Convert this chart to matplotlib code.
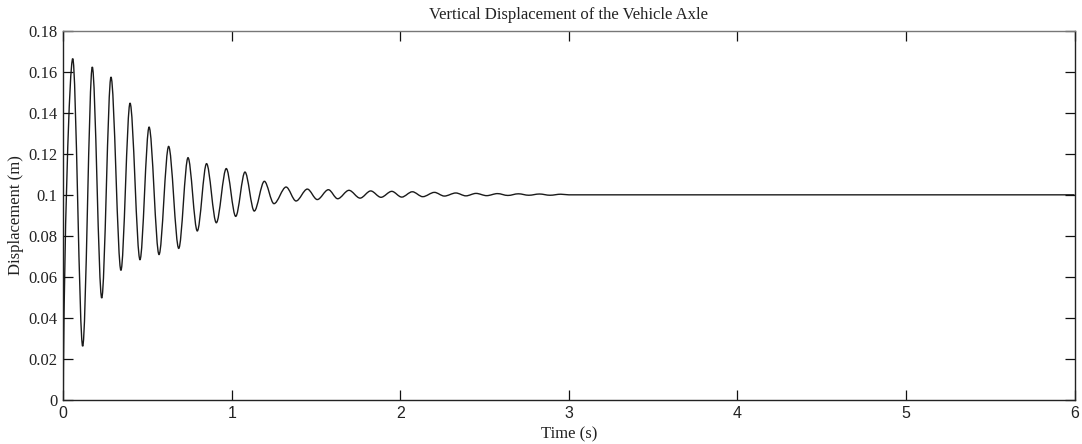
import matplotlib
matplotlib.use("Agg")
import matplotlib.pyplot as plt
from matplotlib.path import Path
from matplotlib.patches import PathPatch

# ---- data (extrema of the response, in s and m) ----
start_time = [0.0]
start_disp = [0.0]
peak_times = [0.056, 0.172, 0.283, 0.396, 0.509, 0.625, 0.740, 0.850, 0.967, 1.078,
              1.193, 1.322, 1.448, 1.573, 1.695, 1.824, 1.949, 2.071, 2.202, 2.329,
              2.449, 2.576, 2.700, 2.825, 2.952]
peak_disp = [0.1664, 0.1623, 0.1574, 0.1447, 0.1330, 0.1236, 0.1181, 0.1152, 0.1128, 0.1111,
             0.1066, 0.1038, 0.1028, 0.1025, 0.1022, 0.1019, 0.1017, 0.1015, 0.1012, 0.1009,
             0.1007, 0.1006, 0.1005, 0.1004, 0.1003]
trough_times = [0.115, 0.228, 0.342, 0.455, 0.568, 0.685, 0.795, 0.908, 1.023, 1.133,
                1.250, 1.381, 1.507, 1.628, 1.761, 1.885, 2.008, 2.133, 2.261, 2.389,
                2.512, 2.638, 2.762, 2.888]
trough_disp = [0.0262, 0.0497, 0.0632, 0.0684, 0.0709, 0.0739, 0.0824, 0.0864, 0.0895, 0.0921,
               0.0957, 0.0970, 0.0977, 0.0981, 0.0984, 0.0988, 0.0989, 0.0991, 0.0994, 0.0995,
               0.0996, 0.0997, 0.0998, 0.0998]
settled_times = [3.0, 6.0]
settled_disp = [0.1, 0.1]

x_ticks = [0, 1, 2, 3, 4, 5, 6]
y_ticks = [0, 0.02, 0.04, 0.06, 0.08, 0.1, 0.12, 0.14, 0.16, 0.18]
y_tick_labels = ['0', '0.02', '0.04', '0.06', '0.08', '0.1', '0.12', '0.14', '0.16', '0.18']

title = 'Vertical Displacement of the Vehicle Axle'
xlabel = 'Time (s)'
ylabel = 'Displacement (m)'

# ---- assemble ordered extrema ----
ext_t = list(start_time)
ext_y = list(start_disp)
for i in range(len(peak_times)):
    ext_t.append(peak_times[i]); ext_y.append(peak_disp[i])
    if i < len(trough_times):
        ext_t.append(trough_times[i]); ext_y.append(trough_disp[i])
ext_t.append(settled_times[0]); ext_y.append(settled_disp[0])

# smooth curve via cubic Bezier segments with horizontal tangents at extrema
verts = [(ext_t[0], ext_y[0])]
codes = [Path.MOVETO]
for k in range(1, len(ext_t)):
    t0, y0 = ext_t[k - 1], ext_y[k - 1]
    t1, y1 = ext_t[k], ext_y[k]
    dt = t1 - t0
    if k == 1:
        c1 = (t0 + dt * 0.05, y0 + (y1 - y0) * 0.45)
    else:
        c1 = (t0 + dt / 3, y0)
    c2 = (t1 - dt / 3, y1)
    verts += [c1, c2, (t1, y1)]
    codes += [Path.CURVE4] * 3
verts.append((settled_times[1], settled_disp[1]))
codes.append(Path.LINETO)

serif = ['Liberation Serif', 'DejaVu Serif']
plt.rcParams['font.family'] = serif

fig = plt.figure(figsize=(10.82, 4.44), dpi=100)
ax = fig.add_axes([63.3 / 1082, 44 / 444, (1074.5 - 63.3) / 1082, (400 - 30.7) / 444])

patch = PathPatch(Path(verts, codes), facecolor='none', edgecolor='#1a1a1a', lw=1.0)
ax.add_patch(patch)

ax.set_xlim(0, 6)
ax.set_ylim(0, 0.18)
ax.set_xticks(x_ticks)
ax.set_xticklabels([str(v) for v in x_ticks], family=['Liberation Sans', 'DejaVu Sans'], fontsize=11.5)
ax.set_yticks(y_ticks)
ax.set_yticklabels(y_tick_labels, fontsize=12)
ax.tick_params(direction='in', length=7, width=0.9, top=True, right=True, colors='#111111',
               labelcolor='#222222')
ax.tick_params(axis='y', pad=4)
ax.tick_params(axis='x', pad=4)
for s in ax.spines.values():
    s.set_linewidth(1.0)
    s.set_color('#222222')
ax.spines['top'].set_color('#777777')

ax.set_title(title, fontsize=12, pad=8.5, color='#222222')
ax.set_xlabel(xlabel, fontsize=12, labelpad=4.5, color='#222222')
ax.set_ylabel(ylabel, fontsize=12, labelpad=3, color='#222222')

fig.savefig('out.png', dpi=100)
